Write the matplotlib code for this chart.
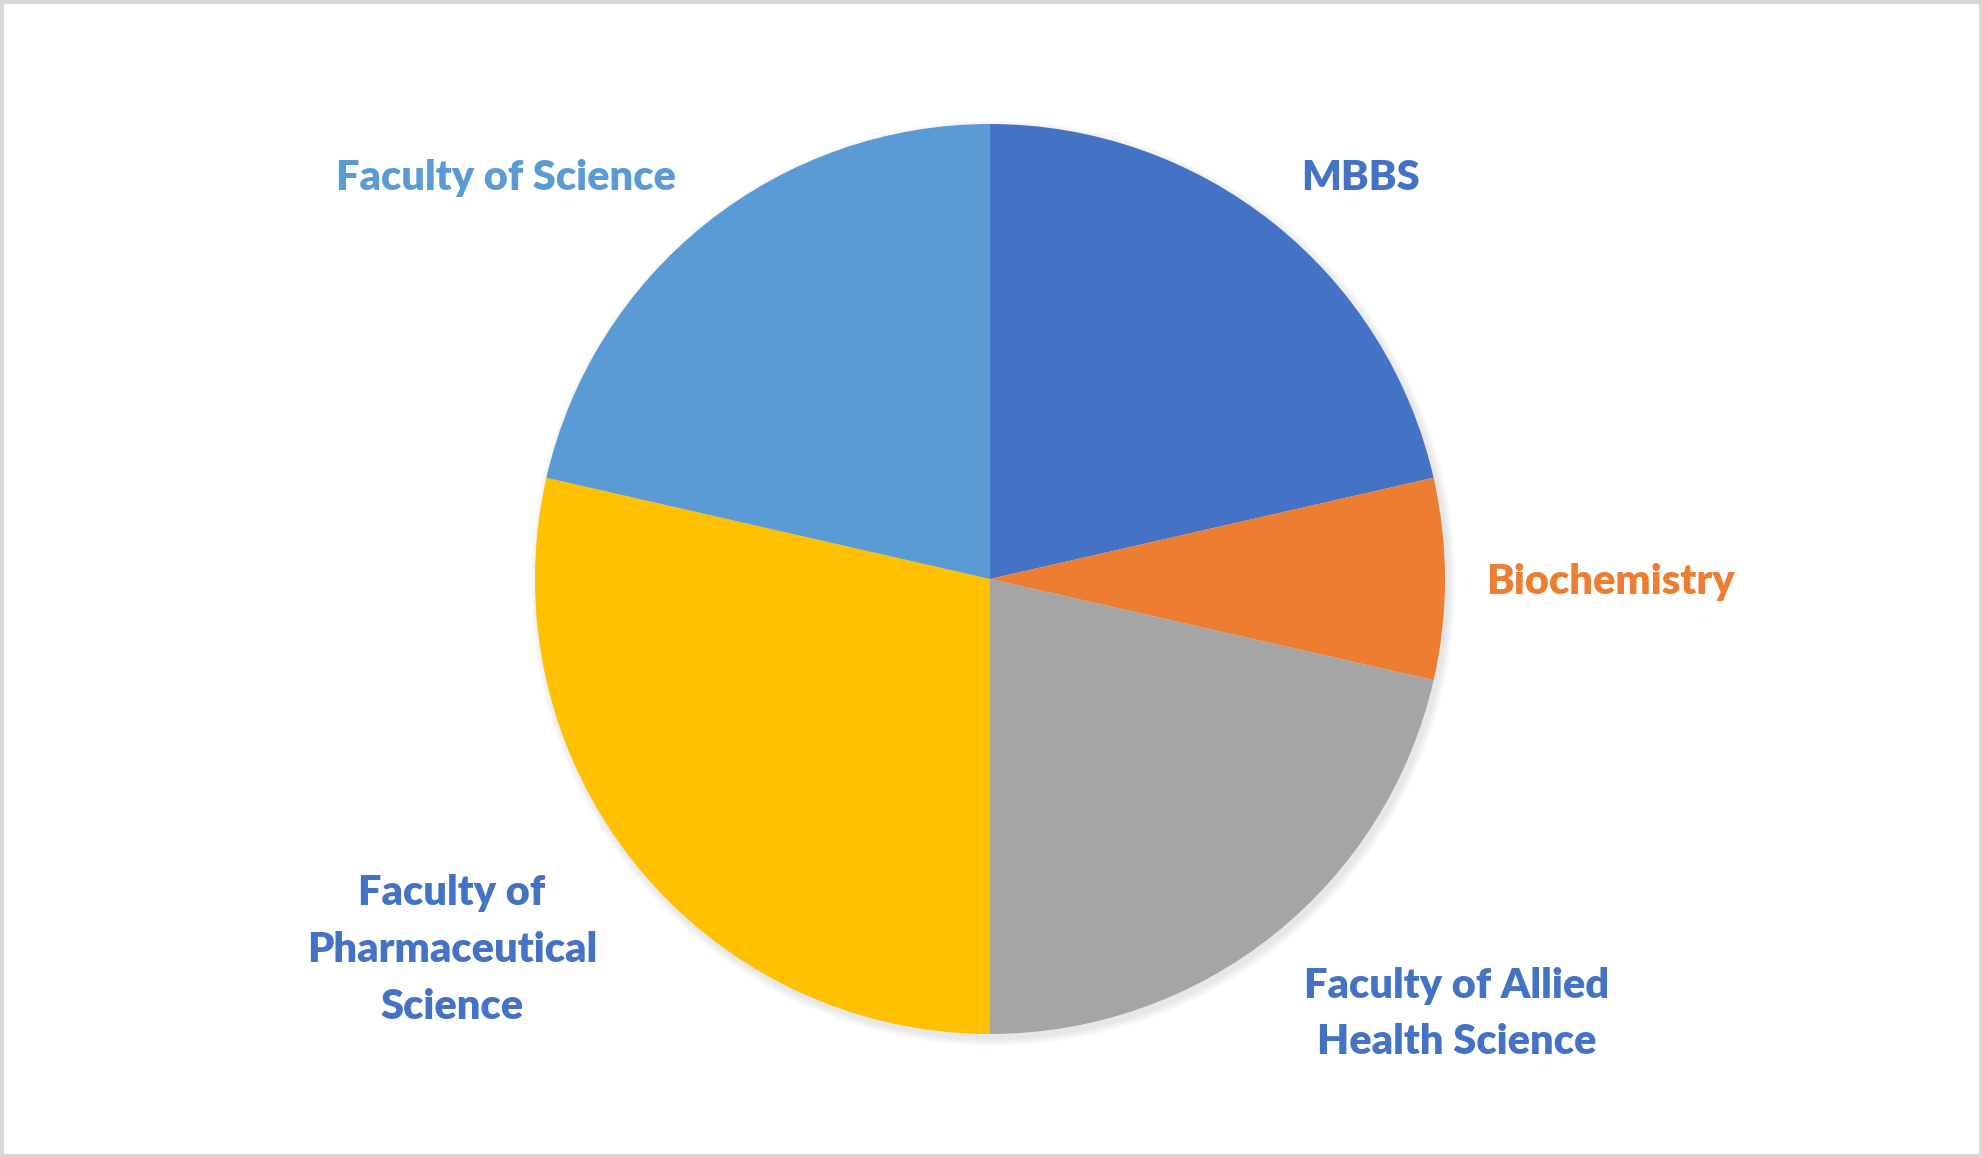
import matplotlib.pyplot as plt
from matplotlib.patches import Circle, Rectangle

# data (counts, 14 in total)
labels = ['MBBS', 'Biochemistry', 'Faculty of Allied\nHealth Science',
          'Faculty of\nPharmaceutical\nScience', 'Faculty of Science']
values = [3, 1, 3, 4, 3]
colors = ['#4472C4', '#ED7D31', '#A5A5A5', '#FFC000', '#5B9BD5']
label_colors = ['#4472C4', '#ED7D31', '#4472C4', '#4472C4', '#5B9BD5']

W, H = 1982, 1157
cx, cy, r = 990, H - 579, 455

# label centres in pixels (from top left)
label_pos = [(1360, 178), (1610, 582), (1457, 1014), (452, 950), (506, 178)]

fig = plt.figure(figsize=(W / 100, H / 100), dpi=100)
ax = fig.add_axes([0, 0, 1, 1])
ax.set_xlim(0, W)
ax.set_ylim(0, H)
ax.axis('off')

# chart border
ax.add_patch(Rectangle((1.5, 1.5), W - 3, H - 3, fill=False, edgecolor='#D9D9D9', linewidth=3))

# soft shadow
for k in range(8):
    ax.add_patch(Circle((cx + 3, cy - 4), r + 8 - k, color='black', alpha=0.012, linewidth=0))

ax.pie(values, colors=colors, startangle=90, counterclock=False,
       radius=r, center=(cx, cy), frame=True,
       wedgeprops=dict(linewidth=0))
ax.set_xlim(0, W)
ax.set_ylim(0, H)
ax.set_aspect('equal')
ax.axis('off')

for lab, col, (x, y) in zip(labels, label_colors, label_pos):
    ax.text(x, H - y, lab, color=col, fontsize=30, fontweight='heavy',
            family='Lato', ha='center', va='center', linespacing=1.6)

fig.savefig('out.png', dpi=100)
